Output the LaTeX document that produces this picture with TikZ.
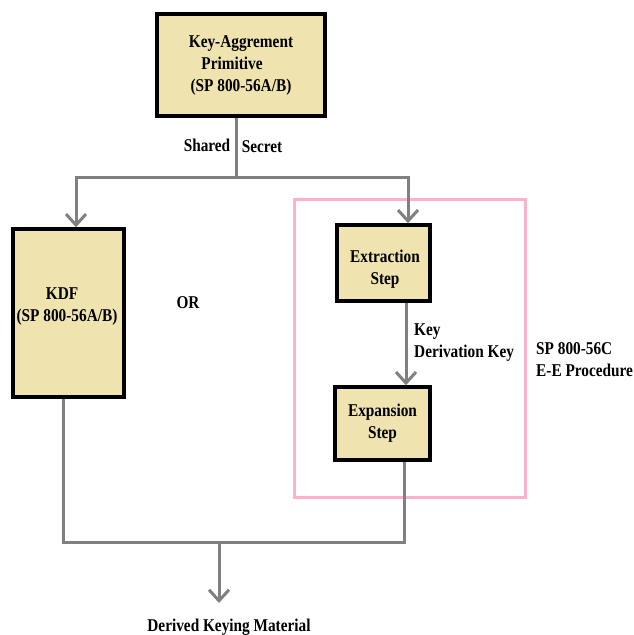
\documentclass[tikz,border=0pt]{standalone}
\usepackage{fontspec}
\setmainfont{Liberation Serif}[FakeStretch=0.85]
\usetikzlibrary{arrows.meta,calc}
\definecolor{boxfill}{RGB}{239,227,176}
\definecolor{linegray}{RGB}{128,128,128}
\definecolor{pinkline}{RGB}{255,176,202}
\begin{document}
\begin{tikzpicture}[x=1pt,y=-1pt,
  every node/.style={font=\bfseries\fontsize{18}{22}\selectfont, inner sep=0pt},
  box/.style={draw=black, line width=3.5pt, fill=boxfill, align=center},
  wire/.style={draw=linegray, line width=3pt},
  arr/.style={wire, -{Straight Barb[length=11pt,width=20pt]}},
  lbl/.style={align=left, anchor=west}]
\useasboundingbox (0,0) rectangle (633,635);
% boxes
\node[box, minimum width=168pt, minimum height=102pt] (top) at (241,65)
  {Key-Aggrement\\Primitive\kern18pt\\(SP 800-56A/B)};
\node[box, minimum width=111pt, minimum height=168pt] (kdf) at (68.5,313) {};
\node[align=center] (kdftext) at (67,307) {KDF\kern10pt\\(SP 800-56A/B)};
\node[box, minimum width=93pt, minimum height=76pt] (ex) at (383.5,263) {};
\node[align=center] (extext) at (385,269) {Extraction\\Step};
\node[box, minimum width=95pt, minimum height=73pt] (xp) at (382.5,423.5) {Expansion\\Step};
\draw[pinkline, line width=3pt] (294.5,199) rectangle (525.5,497);
% labels
\node (shared) at (207,145) {Shared};
\node (secret) at (262,147) {Secret};
\node (or) at (188,303) {OR};
\node[lbl] (kdk) at (414,342.5) {Key\\Derivation Key};
\node[lbl] (proc) at (536,359.5) {SP 800-56C\\E-E Procedure};
\node (out) at (229,627) {Derived Keying Material};
% coordinates
\coordinate (split) at (236,177);
\coordinate (kx) at (76,0);
\coordinate (rx) at (408,0);
\coordinate (mx) at (406,0);
\coordinate (lx) at (63,0);
\coordinate (ox) at (404,0);
\coordinate (join) at (219,542);
\coordinate (dtip) at (219,603);
% connectors
\draw[wire] (top.south -| split) -- (split);
\draw[arr] (split) -| (kx |- kdf.north);
\draw[arr] (split) -| (rx |- ex.north);
\draw[arr] (mx |- ex.south) -- (mx |- xp.north);
\draw[wire] (lx |- kdf.south) |- (ox |- join) -- (ox |- xp.south);
\draw[arr] (join) -- (dtip);
\end{tikzpicture}
\end{document}
